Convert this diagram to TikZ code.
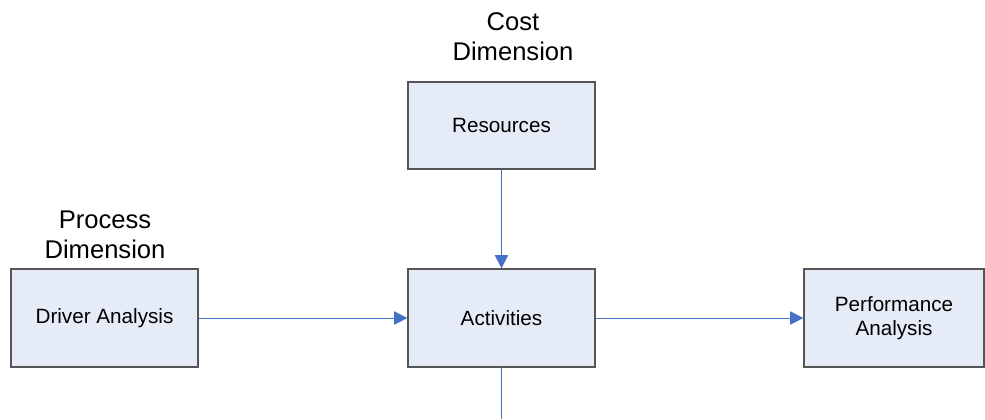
\documentclass[tikz,border=0pt]{standalone}
\usepackage{fontspec}
\setmainfont{Liberation Sans}
\usetikzlibrary{arrows.meta}
\definecolor{boxfill}{HTML}{E6ECF7}
\definecolor{boxline}{HTML}{555555}
\definecolor{arrowblue}{HTML}{4472C4}
\tikzset{
  blockbox/.style={draw=boxline, line width=0.9pt, fill=boxfill, inner sep=0pt,
    font=\fontsize{15.5}{17.5}\selectfont, align=center},
  dimlabel/.style={font=\fontsize{19.2}{22.5}\selectfont, align=center, inner sep=0pt},
  flow/.style={draw=arrowblue, line width=0.75pt, -{Triangle[length=10pt,width=10pt]}}
}
\begin{document}
\begin{tikzpicture}[x=0.75pt,y=-0.75pt]
\useasboundingbox (0,0) rectangle (985,419);
\node[blockbox, minimum width=140.25pt, minimum height=65.25pt] (res) at (501.5,125.5) {Resources};
\node[blockbox, minimum width=140.25pt, minimum height=73.5pt] (drv) at (104.5,318) {Driver Analysis};
\node[blockbox, minimum width=140.25pt, minimum height=73.5pt] (act) at (501.5,318) {Activities};
\node[blockbox, minimum width=135pt, minimum height=73.5pt] (perf) at (894,318) {Performance\\Analysis};
\node[dimlabel] (cost) at (513,37) {Cost\\Dimension};
\node[dimlabel] (proc) at (105,235) {Process\\Dimension};
\coordinate (bot) at (501.5,419);
\draw[flow] (res.south) -- (act.north);
\draw[flow] (drv.east) -- (act.west);
\draw[flow] (act.east) -- (perf.west);
\draw[draw=arrowblue, line width=0.75pt] (act.south) -- (bot);
\end{tikzpicture}
\end{document}
